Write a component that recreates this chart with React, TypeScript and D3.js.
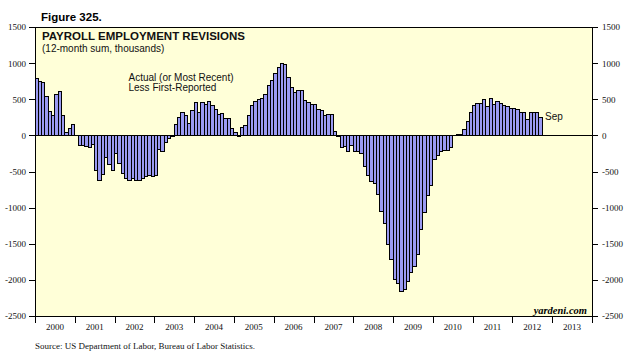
import React, { useRef, useEffect } from 'react';
import * as d3 from 'd3';

// monthly revisions, 12-month sum, thousands (Jan 2000 - Sep 2012)
const rev2000 = [785, 745, 735, 540, 335, 280, 565, 610, 280, 35, 95, 150];
const rev2001 = [5, -138, -140, -152, -166, -124, -484, -622, -540, -310, -410, -493];
const rev2002 = [-254, -392, -526, -595, -627, -600, -627, -627, -600, -567, -554, -567];
const rev2003 = [-560, -200, -225, -105, -45, -20, 148, 245, 314, 281, 161, 341];
const rev2004 = [452, 314, 452, 430, 466, 420, 355, 291, 300, 231, 231, 92];
const rev2005 = [37, -18, 110, 140, 272, 415, 470, 500, 516, 565, 685, 758];
const rev2006 = [862, 940, 990, 975, 802, 660, 595, 615, 615, 489, 456, 433];
const rev2007 = [433, 360, 340, 275, 290, 283, 53, -15, -170, -148, -217, -135];
const rev2008 = [-217, -226, -254, -424, -549, -632, -660, -820, -1058, -1222, -1505, -1724];
const rev2009 = [-2000, -2054, -2160, -2128, -2020, -1897, -1820, -1650, -1297, -1070, -830, -700];
const rev2010 = [-330, -280, -230, -210, -215, -170, 0, 6, 12, 86, 197, 312];
const rev2011 = [410, 435, 435, 490, 405, 515, 430, 475, 440, 412, 405, 372];
const rev2012 = [372, 358, 322, 322, 220, 322, 318, 322, 252];

const revisions = [
  ...rev2000, ...rev2001, ...rev2002, ...rev2003, ...rev2004, ...rev2005, ...rev2006,
  ...rev2007, ...rev2008, ...rev2009, ...rev2010, ...rev2011, ...rev2012,
];

const yearLabels = [2000, 2001, 2002, 2003, 2004, 2005, 2006, 2007, 2008, 2009, 2010, 2011, 2012, 2013];
const yTicks = [1500, 1000, 500, 0, -500, -1000, -1500, -2000, -2500];

const SANS = 'Liberation Sans, Arial, sans-serif';
const SERIF = 'Liberation Serif, Times New Roman, serif';

const App: React.FC = () => {
  const svgRef = useRef<SVGSVGElement | null>(null);

  useEffect(() => {
    const svg = d3.select(svgRef.current);
    svg.selectAll('*').remove();

    const left = 35;
    const right = 592;
    const top = 27;
    const bottom = 316;

    const y = d3.scaleLinear().domain([-2500, 1500]).range([bottom, top]);
    const xMonth = d3.scaleLinear().domain([0, yearLabels.length * 12]).range([left, right]);
    const xYear = d3
      .scaleLinear()
      .domain([yearLabels[0], yearLabels[yearLabels.length - 1] + 1])
      .range([left, right]);

    // plot background
    svg
      .append('rect')
      .attr('x', left)
      .attr('y', top)
      .attr('width', right - left)
      .attr('height', bottom - top)
      .attr('fill', '#ffffd8');

    // bars
    svg
      .append('g')
      .selectAll('rect')
      .data(revisions)
      .enter()
      .append('rect')
      .attr('x', (d, i) => xMonth(i))
      .attr('y', (d) => Math.min(y(d), y(0)))
      .attr('width', xMonth(1) - xMonth(0))
      .attr('height', (d) => Math.abs(y(d) - y(0)))
      .attr('fill', '#9a9af2')
      .attr('stroke', '#000')
      .attr('stroke-width', 1)
      .attr('shape-rendering', 'crispEdges');

    // zero line and top frame
    svg
      .append('line')
      .attr('x1', left)
      .attr('x2', right)
      .attr('y1', y(0))
      .attr('y2', y(0))
      .attr('stroke', '#000')
      .attr('shape-rendering', 'crispEdges');
    svg
      .append('line')
      .attr('x1', left)
      .attr('x2', right)
      .attr('y1', top)
      .attr('y2', top)
      .attr('stroke', '#000')
      .attr('shape-rendering', 'crispEdges');

    const styleAxis = (g: any) => {
      g.selectAll('.domain').attr('stroke', '#000').attr('shape-rendering', 'crispEdges');
      g.selectAll('.tick line').attr('stroke', '#000').attr('shape-rendering', 'crispEdges');
      g.selectAll('.tick text')
        .attr('fill', '#111')
        .style('font-family', SERIF)
        .style('font-size', '9px');
    };

    const fmt = (d: any) => String(d);

    svg
      .append('g')
      .attr('transform', `translate(${left},0)`)
      .call(d3.axisLeft(y).tickValues(yTicks).tickSize(6).tickSizeOuter(0).tickPadding(3).tickFormat(fmt))
      .call(styleAxis);

    svg
      .append('g')
      .attr('transform', `translate(${right},0)`)
      .call(d3.axisRight(y).tickValues(yTicks).tickSize(6).tickSizeOuter(0).tickPadding(4).tickFormat(fmt))
      .call(styleAxis);

    svg
      .append('g')
      .attr('transform', `translate(0,${bottom})`)
      .call(
        d3
          .axisBottom(xYear)
          .tickValues(d3.range(yearLabels[0], yearLabels[yearLabels.length - 1] + 2))
          .tickSize(7)
          .tickSizeOuter(0)
          .tickFormat(() => '')
      )
      .call(styleAxis);

    // year labels centred in each year
    svg
      .append('g')
      .selectAll('text')
      .data(yearLabels)
      .enter()
      .append('text')
      .attr('x', (d) => xYear(d + 0.5))
      .attr('y', 329.5)
      .attr('text-anchor', 'middle')
      .style('font-family', SERIF)
      .style('font-size', '9px')
      .attr('fill', '#111')
      .text((d) => d);

    const addText = (txt: string, x: number, yy: number, size: number, opts: any = {}) =>
      svg
        .append('text')
        .attr('x', x)
        .attr('y', yy)
        .attr('text-anchor', opts.anchor || 'start')
        .attr('fill', opts.fill || '#111')
        .style('font-family', opts.family || SANS)
        .style('font-size', `${size}px`)
        .style('font-weight', opts.weight || 'normal')
        .style('font-style', opts.style || 'normal')
        .text(txt);

    addText('Figure 325.', 41, 21, 11.5, { weight: 'bold', fill: '#000' });
    addText('PAYROLL EMPLOYMENT REVISIONS', 42, 40, 11.5, { weight: 'bold' });
    addText('(12-month sum, thousands)', 42, 52, 10);
    addText('Actual (or Most Recent)', 128.5, 81, 10);
    addText('Less First-Reported', 128.5, 90.5, 10);
    addText('Sep', 545, 120, 10);
    addText('yardeni.com', 587, 313.5, 10.5, { family: SERIF, weight: 'bold', style: 'italic', anchor: 'end', fill: '#000' });
    addText('Source: US Department of Labor, Bureau of Labor Statistics.', 35, 348.5, 9, { family: SERIF });
  }, []);

  return (
    <svg
      ref={svgRef}
      width={642}
      height={364}
      style={{ position: 'absolute', left: 0, top: 0, background: '#fff' }}
    ></svg>
  );
};

export default App;
